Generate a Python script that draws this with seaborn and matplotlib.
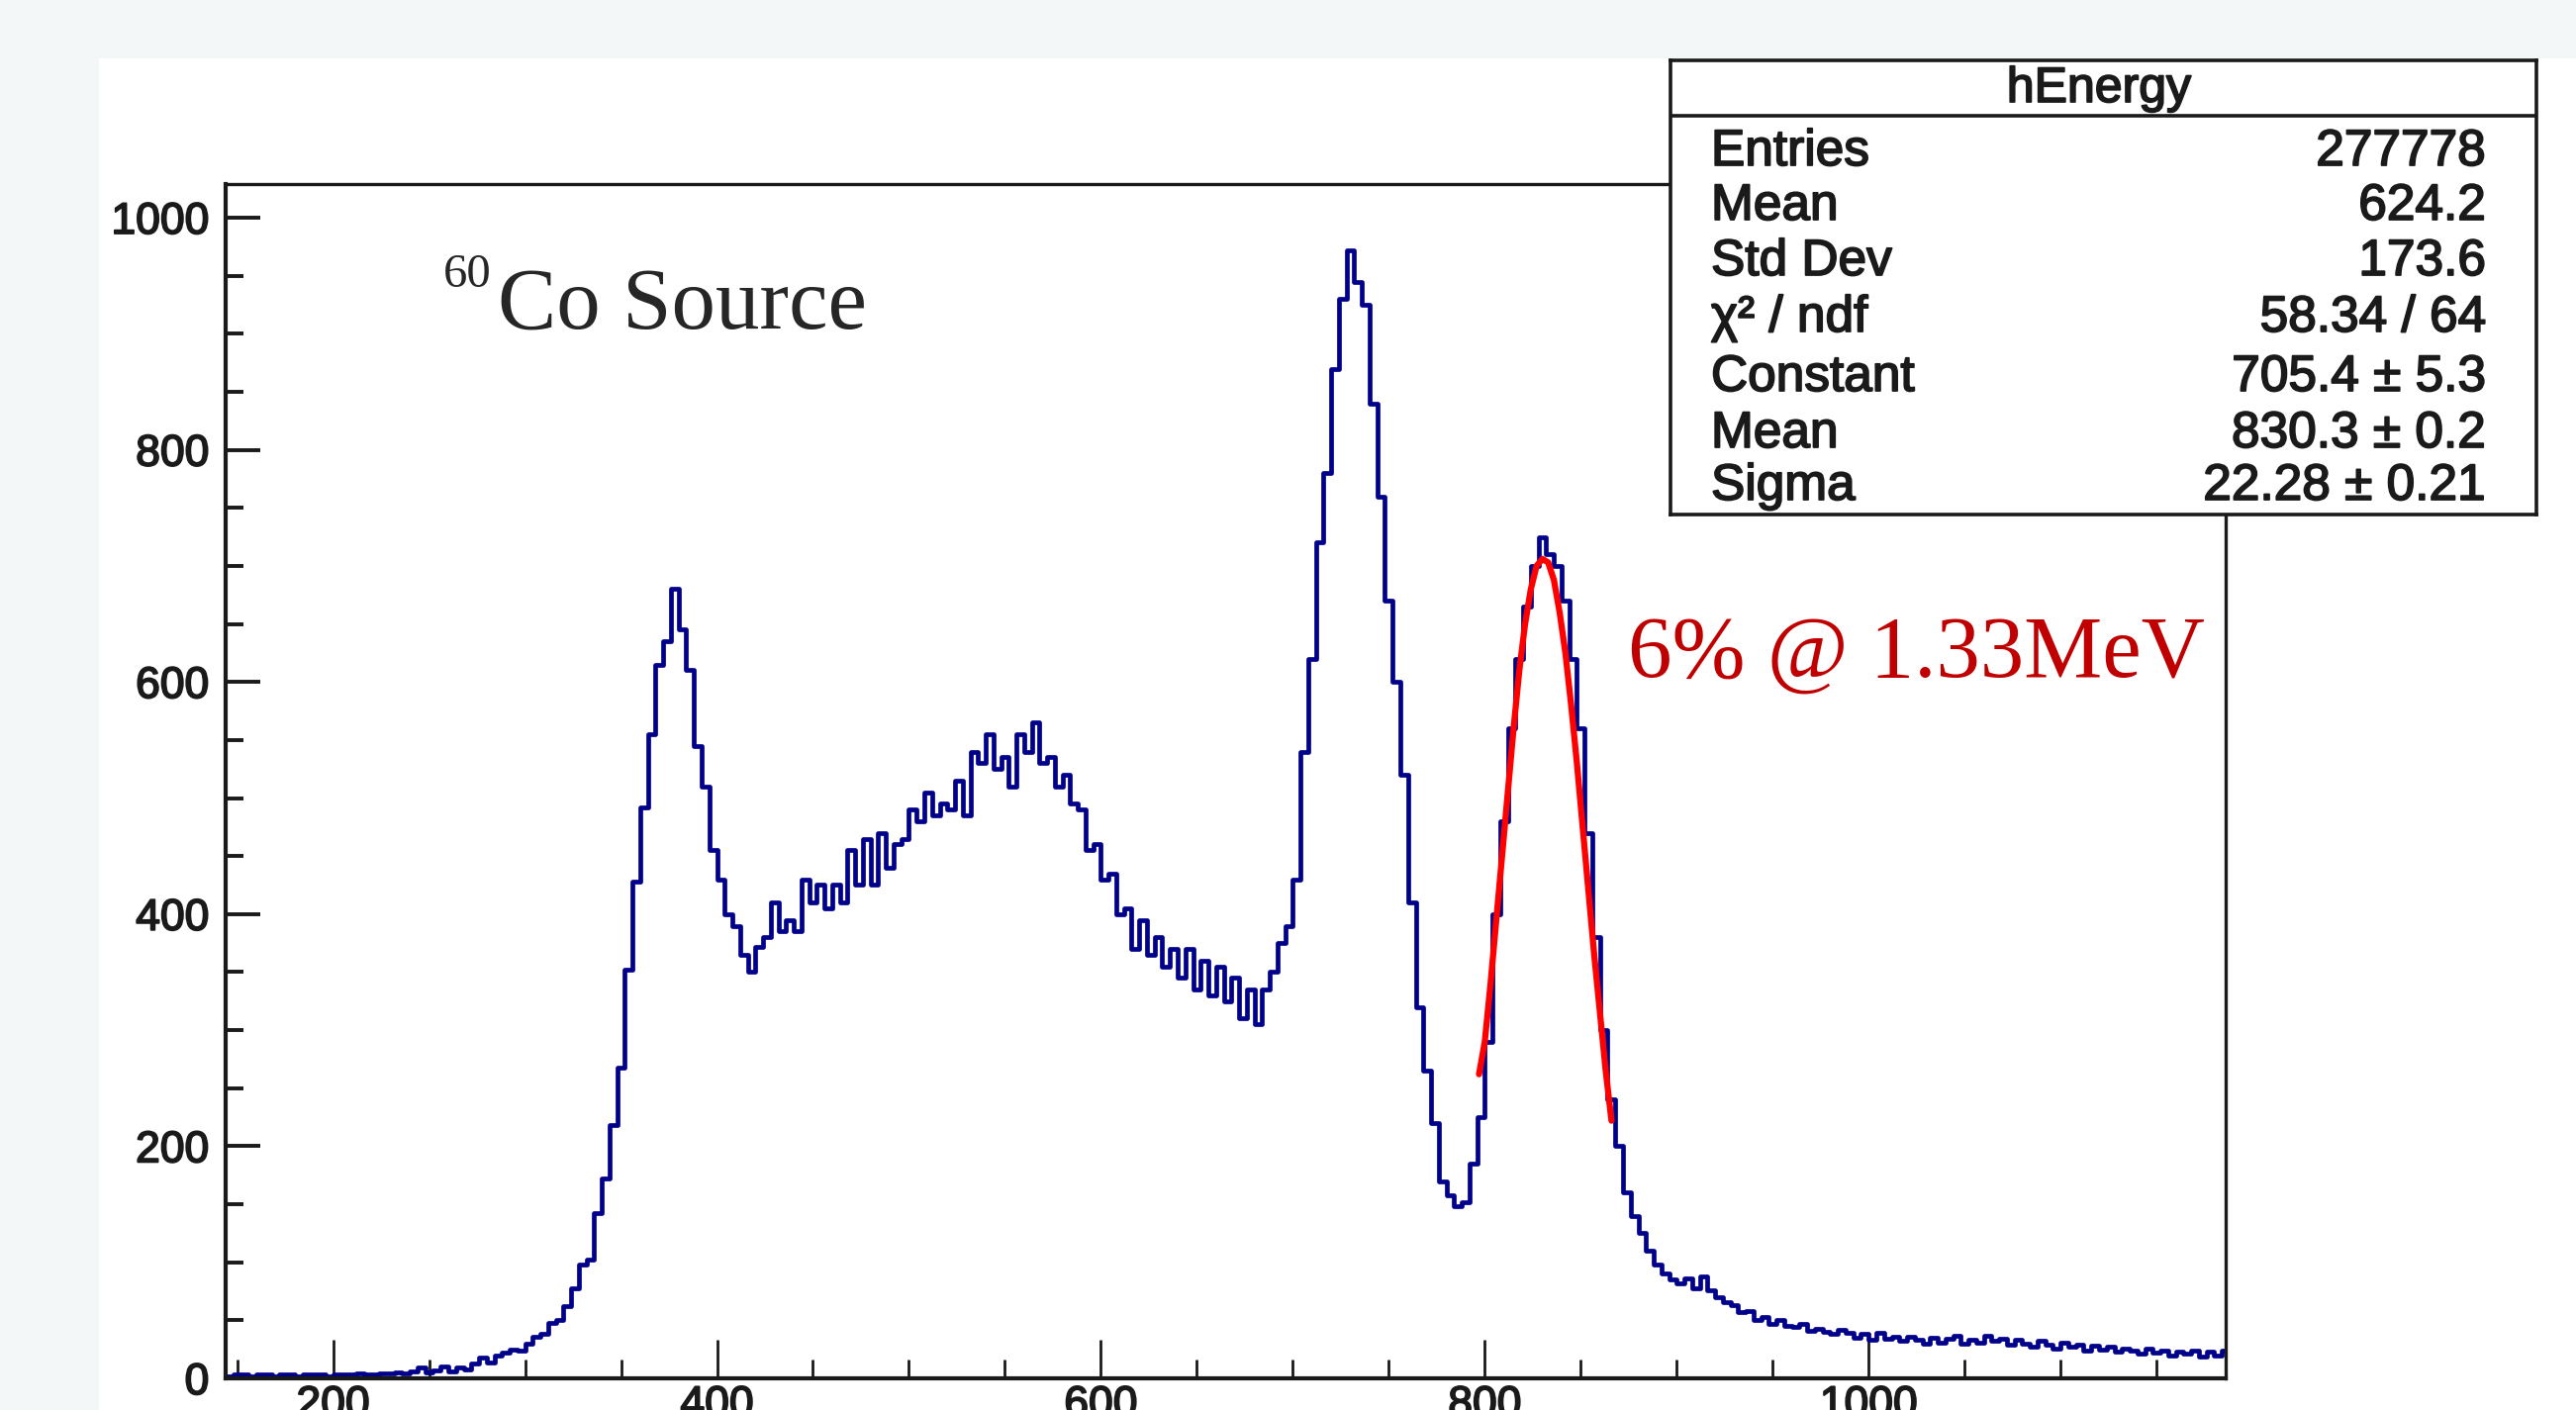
import numpy as np
import pandas as pd
import matplotlib
matplotlib.use("Agg")
import matplotlib.pyplot as plt
import matplotlib.patheffects as pe
import seaborn as sns
from matplotlib.patches import Rectangle
from matplotlib.ticker import MultipleLocator
from matplotlib import font_manager

# === Histogram data (4-unit bins starting at 144) ===
BIN_LO = 144
BIN_WIDTH = 4

counts_low = [2, 3, 3, 2, 3, 3, 2, 3, 3, 2, 3, 3, 3, 2, 3, 3, 3, 4, 3, 3,
              4, 4, 5, 4, 6, 9, 5, 7, 10, 6, 9, 8, 13, 18, 14, 20, 22, 25, 24]

counts_compton = [30, 36, 38, 48, 50, 62, 78, 98, 102, 142, 172, 218, 268, 352, 428, 492, 555, 615, 635, 680,
                  645, 610, 545, 510, 455, 430, 400, 390, 365, 350, 372, 380, 410, 385, 395, 385, 430, 410, 425, 405,
                  425, 410, 455, 425, 465, 425, 470, 440, 460, 465, 490, 480, 505, 485, 495, 490, 515, 485, 540, 530,
                  555, 525, 535, 510, 555, 540, 565, 530, 535, 510, 520, 495, 490, 455, 460, 430, 435, 400, 405, 370,
                  395, 365, 380, 355, 370, 345, 370, 335, 360, 330, 355, 325, 345, 310, 335, 305, 335, 350, 375, 390]

counts_peaks = [430, 540, 620, 720, 780, 870, 930, 972, 945, 925, 840, 760, 670, 600, 520, 410, 320, 265, 220, 170,
                158, 148, 152, 185, 225, 290, 400, 480, 560, 620, 665, 700, 725, 710, 700, 670, 620, 560, 470, 380,
                300, 240, 200, 160, 140, 125, 110, 98, 90, 85]

counts_tail = [82, 86, 78, 88, 76, 70, 66, 63, 57, 58, 50, 53, 47, 50, 45, 44, 47, 41, 43, 40,
               38, 42, 39, 35, 38, 33, 39, 34, 36, 32, 36, 33, 30, 35, 31, 34, 37, 30, 33, 31,
               37, 32, 34, 29, 33, 30, 27, 32, 29, 26, 31, 27, 29, 24, 28, 25, 27, 23, 26, 24,
               21, 26, 22, 24, 20, 23, 21, 24, 19, 23, 20, 24]

# Gaussian fit curve as drawn (red)
fit_x = [797, 800, 803, 806, 809, 812, 815, 818, 821, 824, 827, 830, 833, 836, 839, 842,
         845, 848, 851, 854, 857, 860, 863, 866]
fit_y = [262, 290, 340, 395, 450, 505, 560, 610, 650, 680, 700, 706, 703, 688, 660, 625,
         580, 530, 475, 420, 365, 315, 265, 222]

stat_title = "hEnergy"
stat_labels = ["Entries", "Mean", "Std Dev", "\u03c7\u00b2 / ndf", "Constant", "Mean", "Sigma"]
stat_values = ["277778", "624.2", "173.6", "58.34 / 64", "705.4 \u00b1 5.3", "830.3 \u00b1 0.2", "22.28 \u00b1 0.21"]

counts = counts_low + counts_compton + counts_peaks + counts_tail
bin_hi = BIN_LO + BIN_WIDTH * len(counts)
df = pd.DataFrame({"energy": BIN_LO + BIN_WIDTH * (np.arange(len(counts)) + 0.5),
                   "count": counts})

# === Style ===
sns.set_style("ticks")
names = {f.name for f in font_manager.fontManager.ttflist}
SANS = "Liberation Sans" if "Liberation Sans" in names else "DejaVu Sans"
SERIF = "Liberation Serif" if "Liberation Serif" in names else "DejaVu Serif"
plt.rcParams["font.family"] = [SANS, "DejaVu Sans"]

W, H = 2603, 1425
BLUE = "#00008b"
DARK = "#1a1a1a"
HEAVY = [pe.withStroke(linewidth=1.3, foreground=DARK)]

fig = plt.figure(figsize=(W / 100, H / 100), dpi=100, facecolor="#f3f7f8")
fig.patches.append(Rectangle((100 / W, 0), 1, 1 - 59 / H, transform=fig.transFigure,
                             facecolor="white", edgecolor="none", zorder=-5))

ax = fig.add_axes([228 / W, 1 - 1393 / H, (2249 - 228) / W, (1393 - 186) / H])
ax.set_facecolor("white")
sns.histplot(data=df, x="energy", weights="count", binwidth=BIN_WIDTH,
             binrange=(BIN_LO, bin_hi), element="step",
             fill=False, color=BLUE, linewidth=3.4, ax=ax)
sns.lineplot(x=fit_x, y=fit_y, color="#ff0000", linewidth=4.5, ax=ax)

ax.set_xlim(144, 1186)
ax.set_ylim(0, 1029)
ax.set_xlabel("")
ax.set_ylabel("")
ax.xaxis.set_major_locator(MultipleLocator(200))
ax.xaxis.set_minor_locator(MultipleLocator(50))
ax.yaxis.set_major_locator(MultipleLocator(200))
ax.yaxis.set_minor_locator(MultipleLocator(50))
ax.tick_params(axis="y", which="major", direction="in", length=25, width=2.8, color=DARK,
               labelsize=32, pad=12, labelcolor=DARK)
ax.tick_params(axis="y", which="minor", direction="in", length=13, width=2.8, color=DARK)
ax.tick_params(axis="x", which="major", direction="in", length=28, width=2, color=DARK,
               labelsize=32, pad=5, labelcolor=DARK)
ax.tick_params(axis="x", which="minor", direction="in", length=14, width=2, color=DARK)
for side, sp in ax.spines.items():
    sp.set_visible(True)
    sp.set_color(DARK)
    sp.set_linewidth(3 if side in ("left", "bottom") else 2.4)
for lab in ax.get_xticklabels() + ax.get_yticklabels():
    lab.set_path_effects(HEAVY)

# === Annotations ===
fig.text(448 / W, 1 - 290 / H, "60", fontsize=35, family=SERIF, va="baseline", ha="left")
fig.text(503 / W, 1 - 332 / H, "Co Source", fontsize=64, family=SERIF, va="baseline", ha="left")
fig.text(1645 / W, 1 - 684 / H, "6% @ 1.33MeV", fontsize=64, family=SERIF,
         color="#c00000", va="baseline", ha="left")

# === Stat box ===
bx = fig.add_axes([1688 / W, 1 - 520 / H, (2563 - 1688) / W, (520 - 61) / H])
bx.set_facecolor("white")
bx.set_xticks([])
bx.set_yticks([])
for sp in bx.spines.values():
    sp.set_color(DARK)
    sp.set_linewidth(2.6)
bx.axhline((520 - 117) / 459, color=DARK, linewidth=2.6)

fig.text(2121 / W, 1 - 103 / H, stat_title, fontsize=36, ha="center", va="baseline",
         color=DARK, path_effects=HEAVY)
row_baselines = [167, 222, 278, 335, 395, 452, 505]
for lab, val, yb in zip(stat_labels, stat_values, row_baselines):
    fig.text(1729 / W, 1 - yb / H, lab, fontsize=37, ha="left", va="baseline",
             color=DARK, path_effects=HEAVY)
    fig.text(2512 / W, 1 - yb / H, val, fontsize=37, ha="right", va="baseline",
             color=DARK, path_effects=HEAVY)

fig.savefig("out.png", dpi=100, facecolor=fig.get_facecolor())
